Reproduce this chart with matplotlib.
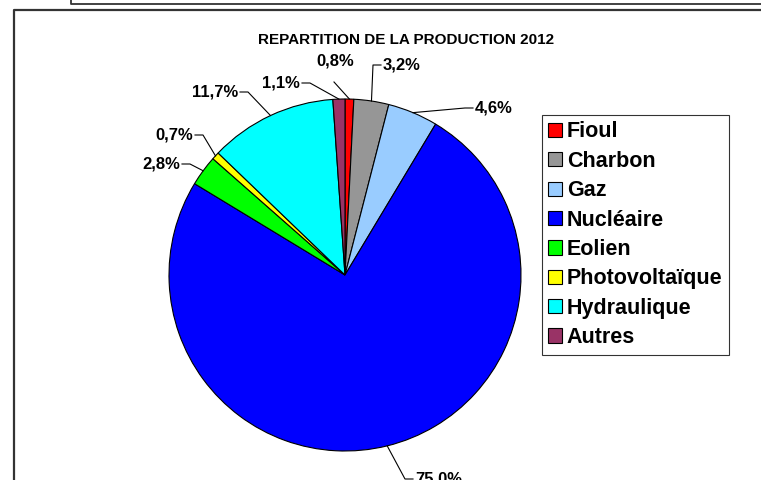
import matplotlib
matplotlib.use('Agg')
import numpy as np
import matplotlib.pyplot as plt
from matplotlib import font_manager

# ---------------- data ----------------
categories = ['Fioul', 'Charbon', 'Gaz', 'Nucléaire', 'Eolien',
              'Photovoltaïque', 'Hydraulique', 'Autres']
shares = [0.8, 3.2, 4.6, 75.0, 2.8, 0.7, 11.7, 1.1]
pct_labels = ['0,8%', '3,2%', '4,6%', '75,0%', '2,8%', '0,7%', '11,7%', '1,1%']
colors = ['#FF0000', '#969696', '#99CCFF', '#0000FF', '#00FF00',
          '#FFFF00', '#00FFFF', '#993366']
title = 'REPARTITION DE LA PRODUCTION 2012'

# ---------------- layout (pixel coordinates) ----------------
W, H = 761, 480
CX, CY, R = 345, 275, 176
# label text positions (x, y, ha)
label_pos = [(335, 61, 'center'), (383, 65, 'left'), (475, 108, 'left'),
             (415, 479, 'left'), (180, 164, 'right'), (193, 135, 'right'),
             (238, 92, 'right'), (300, 83, 'right')]

names = {f.name for f in font_manager.fontManager.ttflist}
base_font = 'Liberation Sans' if 'Liberation Sans' in names else 'DejaVu Sans'

fig = plt.figure(figsize=(W / 100, H / 100), dpi=100)
ax = fig.add_axes([0, 0, 1, 1])

wedges, _ = ax.pie(shares, colors=colors, startangle=-90, counterclock=True,
                   center=(CX, CY), radius=R, frame=True,
                   wedgeprops=dict(edgecolor='black', linewidth=0.8))
ax.set_xlim(0, W)
ax.set_ylim(H, 0)
ax.set_aspect('auto')
ax.axis('off')

# percentage labels with leader lines
for w, lab, (tx, ty, ha) in zip(wedges, pct_labels, label_pos):
    ang = np.deg2rad((w.theta1 + w.theta2) / 2)
    axp, ayp = CX + R * np.cos(ang), CY + R * np.sin(ang)
    if ha == 'left':
        xs, ys = [axp, tx - 10, tx - 2], [ayp, ty, ty]
    elif ha == 'right':
        xs, ys = [axp, tx + 10, tx + 2], [ayp, ty, ty]
    else:
        xs, ys = [axp, tx - 1], [ayp, ty + 21]
    ax.plot(xs, ys, color='black', lw=0.8, clip_on=False)
    ax.text(tx, ty, lab, ha=ha, va='center', fontsize=12, fontweight='bold',
            family=base_font, color='black')

ax.text(406, 40, title, ha='center', va='center', fontsize=11,
        fontweight='bold', family=base_font)

# frames
ax.plot([71, 71, W], [0, 4, 4], color='#333333', lw=1.3, clip_on=False)
ax.plot([14, 14, W], [H, 10, 10], color='#333333', lw=1.6, clip_on=False)

leg = ax.legend(wedges, categories, loc='upper left',
                bbox_to_anchor=(542, 115), bbox_transform=ax.transData,
                borderaxespad=0, frameon=True, fancybox=False,
                prop=dict(family=base_font, weight='bold', size=15.5),
                handlelength=0.65, handleheight=0.65, handletextpad=0.2,
                labelspacing=0.39, borderpad=0.3)
leg.get_frame().set_edgecolor('black')
leg.get_frame().set_linewidth(0.8)

fig.savefig('out.png', dpi=100)
